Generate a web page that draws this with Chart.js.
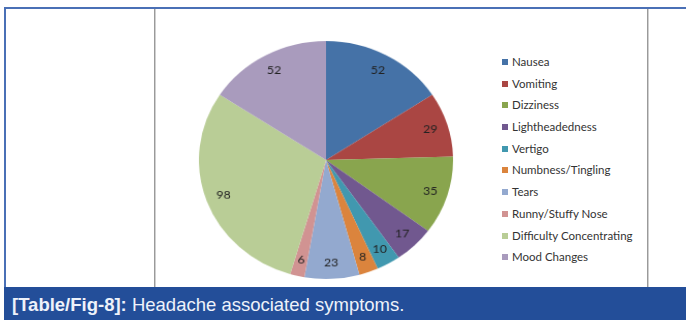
<!DOCTYPE html>
<html lang="en">
<head>
  <meta charset="UTF-8" />
  <title>Headache associated symptoms</title>
  <script src="https://cdn.jsdelivr.net/npm/chart.js"></script>
  <style>
    html, body { margin: 0; padding: 0; background: #fff; }
    body { width: 686px; height: 320px; position: relative; overflow: hidden; font-family: "Lato", "Open Sans", sans-serif; }
    .topline { position: absolute; left: 4px; top: 7px; width: 682px; height: 2px; background: #4a70b6; }
    .leftline { position: absolute; left: 4px; top: 7px; width: 2px; height: 282px; background: #4a70b6; }
    .vline { position: absolute; top: 9px; width: 1px; height: 278px; background: #9a9a9a; border-right: 1px solid #d0d0d0; }
    .pie-box { position: absolute; left: 203px; top: 37px; width: 246px; height: 246px; transform: scale(1.033, 0.967); }
    .legend { position: absolute; left: 502px; top: 54px; list-style: none; margin: 0; padding: 0; }
    .legend li { height: 21.7px; font-size: 11.5px; color: #333; line-height: 16px; white-space: nowrap; }
    .legend span { display: inline-block; width: 6px; height: 6px; margin-right: 4px; vertical-align: 1px; }
    .caption { position: absolute; left: 4px; top: 287px; width: 682px; height: 33px; background: #234e99; color: #eef2fa; font-family: "Liberation Sans", Arial, sans-serif; font-size: 18.5px; line-height: 36px; padding-left: 8px; box-sizing: border-box; }
    .caption b { font-weight: bold; }
  </style>
</head>
<body>
  <div class="topline"></div>
  <div class="leftline"></div>
  <div class="vline" style="left:154px"></div>
  <div class="vline" style="left:647px"></div>

  <div class="pie-box"><canvas id="pie"></canvas></div>
  <ul class="legend" id="legend"></ul>

  <div class="caption"><b>[Table/Fig-8]:</b> Headache associated symptoms.</div>

  <script>
    const symptoms = ['Nausea', 'Vomiting', 'Dizziness', 'Lightheadedness', 'Vertigo',
      'Numbness/Tingling', 'Tears', 'Runny/Stuffy Nose', 'Difficulty Concentrating', 'Mood Changes'];
    const counts = [52, 29, 35, 17, 10, 8, 23, 6, 98, 52];
    const colors = ['#4572a7', '#aa4643', '#89a54e', '#71588f', '#4198af',
      '#db843d', '#93a9cf', '#d19392', '#b9cd96', '#a99bbd'];

    // legend on the right, same order as the slices
    const ul = document.getElementById('legend');
    symptoms.forEach((s, i) => {
      const li = document.createElement('li');
      li.innerHTML = '<span style="background:' + colors[i] + '"></span>' + s;
      ul.appendChild(li);
    });

    // values written inside each slice, near the rim
    const sliceLabels = {
      id: 'sliceLabels',
      afterDatasetsDraw(chart) {
        const ctx = chart.ctx;
        const arcs = chart.getDatasetMeta(0).data;
        ctx.save();
        ctx.font = '12px Lato, "Open Sans", sans-serif';
        ctx.fillStyle = '#222';
        ctx.textAlign = 'center';
        ctx.textBaseline = 'middle';
        arcs.forEach((arc, i) => {
          const p = arc.getProps(['x', 'y', 'startAngle', 'endAngle', 'outerRadius'], true);
          const mid = (p.startAngle + p.endAngle) / 2;
          const r = p.outerRadius * 0.86;
          ctx.fillText(counts[i], p.x + Math.cos(mid) * r, p.y + Math.sin(mid) * r);
        });
        ctx.restore();
      }
    };

    new Chart(document.getElementById('pie'), {
      type: 'pie',
      data: {
        labels: symptoms,
        datasets: [{
          data: counts,
          backgroundColor: colors,
          borderWidth: 0
        }]
      },
      options: {
        responsive: true,
        maintainAspectRatio: false,
        animation: false,
        layout: { padding: 0 },
        plugins: {
          legend: { display: false },
          tooltip: { enabled: false }
        }
      },
      plugins: [sliceLabels]
    });
  </script>
</body>
</html>
